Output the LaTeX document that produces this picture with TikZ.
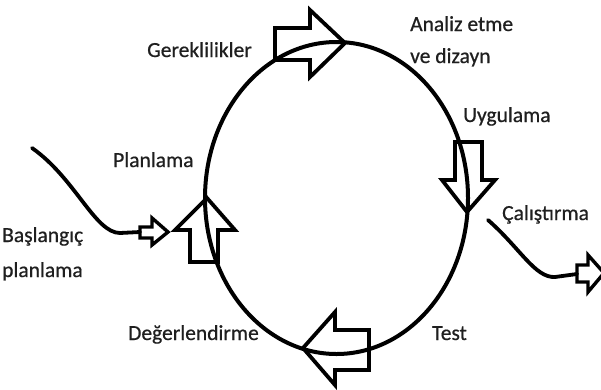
\documentclass[tikz,border=0pt]{standalone}
\usepackage{fontspec}
\setmainfont[FakeBold=0.6]{Carlito}
\begin{document}
\begin{tikzpicture}[x=1pt,y=-1pt,
  lbl/.style={anchor=base west,inner sep=0pt,text=black!88,font=\fontsize{21.5}{30}\selectfont},
  ring/.style={line width=4pt},
  blk/.style={line width=3.8pt,line join=miter},
  tail/.style={line width=3.8pt,line cap=round}]
\useasboundingbox[fill=white] (0,0) rectangle (601,389);
% cycle
\draw[ring] (336.5,198) ellipse [x radius=131.5,y radius=156];
% block arrows on the cycle
\draw[blk] (275,28) -- (310,28) -- (310,10) -- (345,43) -- (310,77) -- (310,60) -- (275,60) -- cycle;
\draw[blk] (455,142) -- (482,142) -- (482,180) -- (495,180) -- (467,212) -- (442,180) -- (455,180) -- cycle;
\draw[blk] (190,262) -- (190,230) -- (175,230) -- (207,198) -- (235,230) -- (218,230) -- (218,262) -- cycle;
\draw[blk] (369,330) -- (335,330) -- (335,312) -- (303,348) -- (335,385) -- (335,370) -- (369,370) -- cycle;
% entry and exit
\coordinate (in0) at (32,148);
\coordinate (in1) at (140,232);
\draw[tail] (in0) .. controls (75,178) and (95,233) .. (120,233) -- (in1);
\draw[blk,line width=3.4pt] (140,227) -- (152,227) -- (152,218) -- (168,232) -- (152,245) -- (152,238) -- (140,238) -- cycle;
\coordinate (out0) at (488,220);
\coordinate (out1) at (577,274);
\draw[tail] (out0) .. controls (520,248) and (535,278) .. (555,277) -- (out1);
\draw[blk,line width=3.4pt] (577,265) -- (588,265) -- (588,255) -- (604,273) -- (588,292) -- (588,282) -- (577,282) -- cycle;
% labels
\node[lbl] (gerek) at (147,57) {Gereklilikler};
\node[lbl] (analiz) at (410,31) {Analiz etme};
\node[lbl] (dizayn) at (410,63) {ve dizayn};
\node[lbl] (uygul) at (463,122) {Uygulama};
\node[lbl] (plan) at (113,167) {Planlama};
\node[lbl] (basl) at (2,242) {Başlangıç};
\node[lbl] (basl2) at (2,277) {planlama};
\node[lbl] (calis) at (502,220) {Çalıştırma};
\node[lbl] (deger) at (128,340) {Değerlendirme};
\node[lbl] (test) at (432,340) {Test};
\end{tikzpicture}
\end{document}
